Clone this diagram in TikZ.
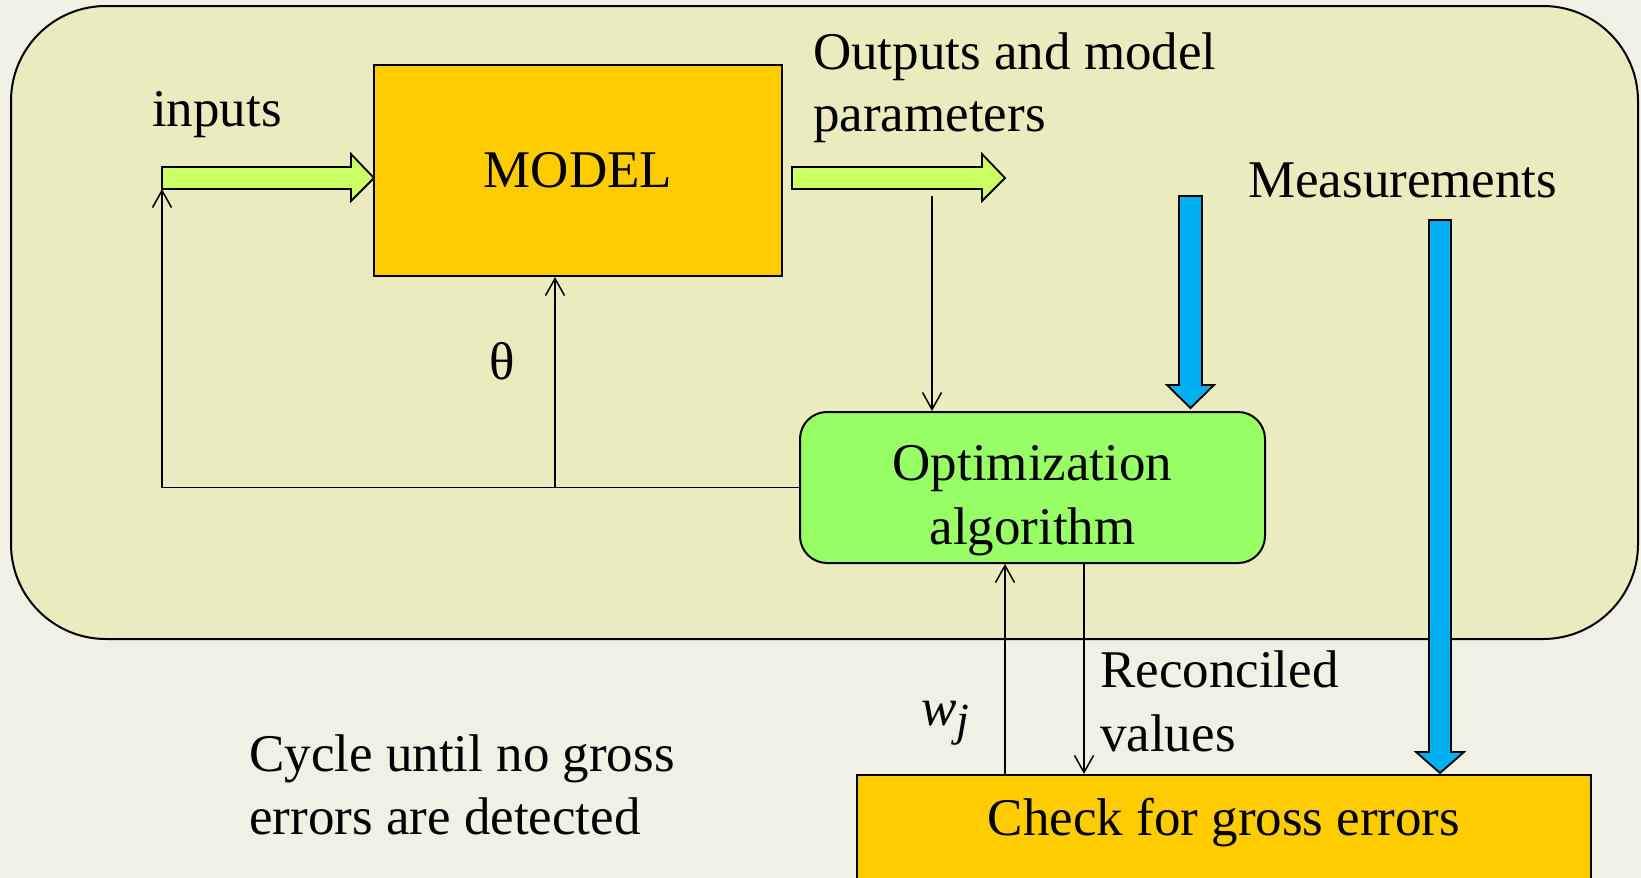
\documentclass[tikz,border=0pt]{standalone}
\usepackage{fontspec}
\setmainfont{Liberation Serif}
\usetikzlibrary{arrows.meta}
\definecolor{paper}{RGB}{240,240,228}
\definecolor{panel}{RGB}{234,235,190}
\definecolor{boxorange}{RGB}{255,204,0}
\definecolor{optgreen}{RGB}{153,255,102}
\definecolor{arrgreen}{RGB}{204,255,102}
\definecolor{arrblue}{RGB}{0,176,240}
\begin{document}
\begin{tikzpicture}[x=1pt,y=-1pt,
  font=\fontsize{53}{63}\selectfont,
  outline/.style={draw=black, line width=2pt},
  blockbox/.style={draw=black, line width=2pt, fill=boxorange, inner sep=0pt},
  optbox/.style={draw=black, line width=2pt, fill=optgreen, rounded corners=27pt, inner sep=0pt},
  flow/.style={draw=black, line width=1.5pt, -{Straight Barb[length=17pt,width=19pt,line width=1.5pt]}},
  fatgreen/.style={draw=black, line width=1.8pt, fill=arrgreen},
  fatblue/.style={draw=black, line width=1.8pt, fill=arrblue},
  lbl/.style={inner sep=0pt}]
\fill[paper] (0,0) rectangle (1641,878);
\useasboundingbox (0,0) rectangle (1641,878);
% panel
\draw[outline, fill=panel, rounded corners=95pt] (11,6) rectangle (1638,639);
% boxes
\node[blockbox, minimum width=408, minimum height=211] (model) at (578,170.5) {MODEL};
\node[optbox, minimum width=465, minimum height=151] (opt) at (1032.5,487.5) {};
\node[lbl, anchor=base] (opt1) at (1032.5,480) {Optimization};
\node[lbl, anchor=base] (opt2) at (1032.5,544) {algorithm};
\node[blockbox, minimum width=734, minimum height=160] (check) at (1224,855) {};
\node[lbl, anchor=base] (checktxt) at (1224,835) {Check for gross errors};
% block arrows
\draw[fatgreen] (162,167) -- (351,167) -- (351,154) -- (374,178) -- (351,201) -- (351,189) -- (162,189) -- cycle;
\draw[fatgreen] (792,167) -- (982,167) -- (982,154) -- (1005,178) -- (982,201) -- (982,189) -- (792,189) -- cycle;
\draw[fatblue] (1179,196) -- (1202,196) -- (1202,385) -- (1214,385) -- (1190.5,408) -- (1167,385) -- (1179,385) -- cycle;
\draw[fatblue] (1429,220) -- (1451,220) -- (1451,752) -- (1464,752) -- (1440,773) -- (1416,752) -- (1429,752) -- cycle;
% connectors
\coordinate (fbL) at (162,487.5);
\coordinate (inJoin) at (162,189);
\draw[flow] (opt.west) -- (fbL) -- (inJoin);
\coordinate (thetaJ) at (555,487.5);
\draw[flow] (thetaJ) -- (thetaJ |- model.south);
\coordinate (outDrop) at (932,196);
\draw[flow] (outDrop) -- (outDrop |- opt.north);
\coordinate (wjx) at (1005,0);
\draw[flow] (wjx |- check.north) -- (wjx |- opt.south);
\coordinate (rcx) at (1084,0);
\draw[flow] (rcx |- opt.south) -- (rcx |- check.north);
% labels
\node[lbl, anchor=base west] (inputs) at (152,126) {inputs};
\node[lbl, anchor=base west] (out1) at (813,69) {Outputs and model};
\node[lbl, anchor=base west] (out2) at (813,131) {parameters};
\node[lbl, anchor=base west] (meas) at (1248,197) {Measurements};
\node[lbl, anchor=base] (theta) at (502,379) {θ};
\node[lbl, anchor=base west] (wj) at (921,725) {\textit{w}\raisebox{-10pt}{\fontsize{46}{50}\selectfont\textit{j}}};
\node[lbl, anchor=base west] (rec1) at (1100,687) {Reconciled};
\node[lbl, anchor=base west] (rec2) at (1100,751) {values};
\node[lbl, anchor=base west] (cyc1) at (249,771) {Cycle until no gross};
\node[lbl, anchor=base west] (cyc2) at (249,834) {errors are detected};
\end{tikzpicture}
\end{document}
